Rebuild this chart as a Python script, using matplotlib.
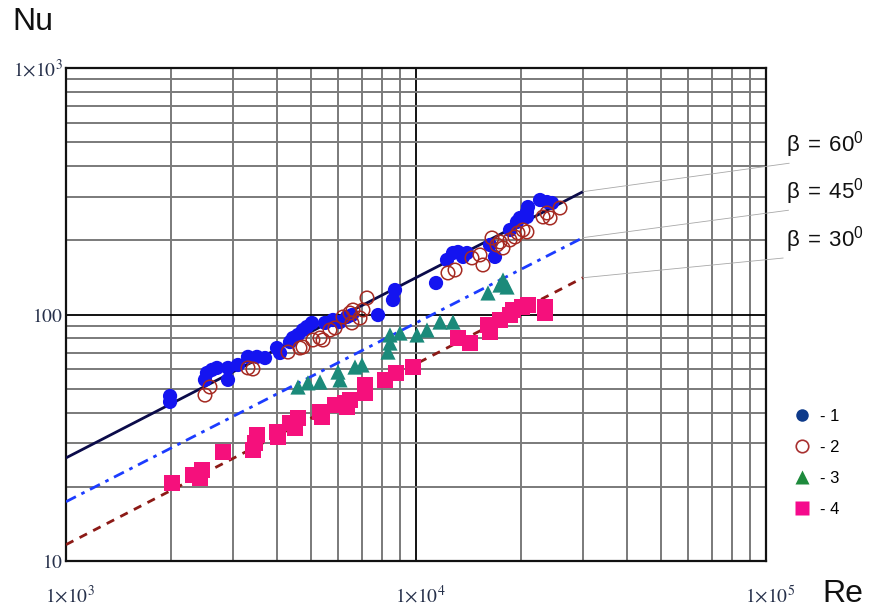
import matplotlib
matplotlib.use("Agg")
import matplotlib.pyplot as plt
from matplotlib.lines import Line2D
from matplotlib.ticker import LogLocator, NullFormatter
from matplotlib.transforms import ScaledTranslation

plt.rcParams['mathtext.fontset'] = 'stix'
plt.rcParams['font.family'] = ['Liberation Sans', 'DejaVu Sans']

# ---------------- data ----------------
re1 = [1983, 1983, 2495, 2528, 2613, 2700, 2903, 2903, 3100, 3311, 3513, 3704, 4008, 4088,
       4365, 4452, 4601, 4754, 4881, 5044, 5495, 5793, 6065, 6351, 6562, 7790, 8595, 8710,
       11408, 12262, 12757, 13183, 13624, 13987, 16270, 16814, 18561, 19428, 19815, 20749,
       20893, 20749, 22617, 23683, 24475]
nu1 = [46.7, 44.2, 54.3, 57.9, 59.6, 60.7, 54.3, 60.7, 62.4, 67.3, 67.3, 66.6, 73.1, 69.8,
       77.3, 80.3, 82.6, 86.5, 89.0, 92.4, 92.4, 95.0, 93.2, 97.7, 99.5, 99.5, 114.5, 125.7,
       134.2, 166.4, 177.6, 179.3, 171.2, 177.6, 191.4, 171.2, 220.2, 237.3, 246.3, 260.5,
       272.9, 248.6, 291.4, 285.9, 283.3]

re2 = [2495, 2578, 3311, 3421, 4309, 4662, 4754, 5076, 5318, 5424, 5679, 5870, 6185, 6476,
       6607, 6562, 6918, 7056, 7244, 12342, 12925, 14454, 15235, 15538, 16487, 17036, 17378,
       17725, 18561, 19174, 19556, 20211, 20749, 23068, 23683, 24155, 25790]
nu2 = [47.1, 50.8, 60.7, 60.1, 70.4, 73.1, 73.8, 78.8, 80.3, 78.8, 86.5, 88.2, 97.7, 101.4,
       104.3, 92.4, 96.8, 104.3, 116.7, 147.4, 151.5, 169.6, 174.4, 158.8, 204.4, 191.4, 196.9,
       186.1, 200.6, 206.3, 214.2, 220.2, 216.2, 248.6, 258.1, 246.3, 270.4]

re3 = [4601, 4912, 5318, 5986, 6065, 6694, 7010, 8318, 8427, 8427, 9000, 10066, 10750,
       11712, 12757, 16058, 17378, 17725, 18197]
nu3 = [50.8, 52.8, 53.2, 58.4, 54.3, 61.2, 62.4, 70.4, 76.6, 82.6, 84.1, 82.6, 86.5,
       93.2, 93.2, 122.3, 131.7, 138.0, 129.3]

re4 = [2009, 2307, 2446, 2415, 2809, 3467, 3513, 3421, 4008, 4034, 4365, 4601, 4511, 5318,
       5388, 5870, 6267, 6476, 6351, 7150, 7150, 8157, 8768, 9804, 13183, 14266, 16058, 16270,
       17378, 18561, 18923, 20081, 20893, 23373, 23373]
nu4 = [20.7, 22.3, 23.4, 21.7, 27.7, 30.1, 32.4, 28.2, 33.4, 31.8, 36.3, 38.0, 34.6, 40.2,
       38.4, 43.0, 43.7, 45.0, 42.2, 48.0, 51.8, 54.3, 57.9, 61.2, 80.3, 76.6, 90.7, 84.9,
       95.0, 99.5, 104.3, 107.3, 109.3, 107.3, 101.4]

fit_re = [1000, 30000]
fit_nu60 = [26.2, 315]
fit_nu45 = [17.4, 205]
fit_nu30 = [11.65, 141]

beta_labels = ['60', '45', '30']
legend_labels = ['- 1', '- 2', '- 3', '- 4']
xtick_vals = [1e3, 1e4, 1e5]
xtick_labels = [r'$1{\times}10^{3}$', r'$1{\times}10^{4}$', r'$1{\times}10^{5}$']
ytick_vals = [10, 100, 1000]
ytick_labels = [r'$10$', r'$100$', r'$1{\times}10^{3}$']

# ---------------- figure ----------------
W, H = 869, 609
fig = plt.figure(figsize=(W / 100, H / 100), dpi=100)
fig.patch.set_facecolor('white')
ax = fig.add_axes([66 / W, 1 - 561 / H, 700 / W, 493 / H])
ax.set_xscale('log')
ax.set_yscale('log')
ax.set_xlim(1e3, 1e5)
ax.set_ylim(10, 1e3)

ax.xaxis.set_minor_locator(LogLocator(base=10, subs=range(2, 10)))
ax.yaxis.set_minor_locator(LogLocator(base=10, subs=range(2, 10)))
ax.xaxis.set_minor_formatter(NullFormatter())
ax.yaxis.set_minor_formatter(NullFormatter())
ax.grid(which='minor', color='#7a7a7a', lw=1.4, zorder=0)
ax.grid(which='major', color='#000000', lw=1.3, zorder=0)
ax.set_axisbelow(True)
for sp in ax.spines.values():
    sp.set_linewidth(1.6)
    sp.set_color('#111111')

ax.set_xticks(xtick_vals)
ax.set_xticklabels(xtick_labels)
ax.set_yticks(ytick_vals)
ax.set_yticklabels(ytick_labels)
ax.tick_params(which='both', length=0)
ax.tick_params(axis='x', pad=17, labelsize=14, labelcolor='#26304a')
ax.tick_params(axis='y', pad=2, labelsize=14, labelcolor='#26304a')
for lab in ax.get_xticklabels():
    lab.set_transform(lab.get_transform() + ScaledTranslation(4 / 100, 0, fig.dpi_scale_trans))

# fit lines
ax.plot(fit_re, fit_nu60, color='#0b0b4a', lw=2.0, zorder=3, solid_capstyle='butt')
ax.plot(fit_re, fit_nu45, color='#1c3cff', lw=2.0, zorder=3, dashes=(4, 2.2, 1.3, 2.2))
ax.plot(fit_re, fit_nu30, color='#8c1a16', lw=2.0, zorder=3, dashes=(3, 2.5))

# data
ax.scatter(re1, nu1, s=105, marker='o', color='#1414f0', edgecolors='none', zorder=4)
ax.scatter(re2, nu2, s=95, marker='o', facecolors='none', edgecolors='#a52a22', lw=1.1, zorder=4)
ax.scatter(re3, nu3, s=120, marker='^', color='#1b8a7a', edgecolors='none', zorder=4)
ax.scatter(re4, nu4, s=135, marker='s', color='#f5107c', edgecolors='none', zorder=4)

# beta annotations with leader lines
label_y = [464, 417, 369]
for lbl, nu_fit, yy in zip(beta_labels, [fit_nu60, fit_nu45, fit_nu30], label_y):
    ax.annotate(r'$\mathregular{\beta\ =\ ' + lbl + r'^{0}}$', xy=(fit_re[-1], nu_fit[-1]),
                xycoords='data', xytext=(786, yy), textcoords='figure pixels',
                ha='left', va='center', fontsize=16, color='#111111',
                annotation_clip=False,
                arrowprops=dict(arrowstyle='-', color='#a8a8a8', lw=0.6,
                                shrinkA=0, shrinkB=0, relpos=(0.3, 0.0)))

# axis titles
fig.text(12 / W, 1 - 22 / H, 'Nu', fontsize=23, ha='left', va='center', color='#111111')
fig.text(822 / W, 1 - 594 / H, 'Re', fontsize=23, ha='left', va='center', color='#111111')

# legend
handles = [
    Line2D([], [], ls='', marker='o', ms=9, color='#0d3a8a', mec='none'),
    Line2D([], [], ls='', marker='o', ms=9, mfc='none', mec='#a83030', mew=1.2),
    Line2D([], [], ls='', marker='^', ms=10, color='#1e8a3c', mec='none'),
    Line2D([], [], ls='', marker='s', ms=10, color='#f50a8c', mec='none'),
]
fig.legend(handles, legend_labels, loc='center left',
           bbox_to_anchor=(785 / W, 1 - 463 / H), frameon=False, fontsize=12,
           handlelength=1.0, handletextpad=0.6, labelspacing=0.95, borderpad=0)

fig.savefig('out.png', dpi=100, facecolor='white')
